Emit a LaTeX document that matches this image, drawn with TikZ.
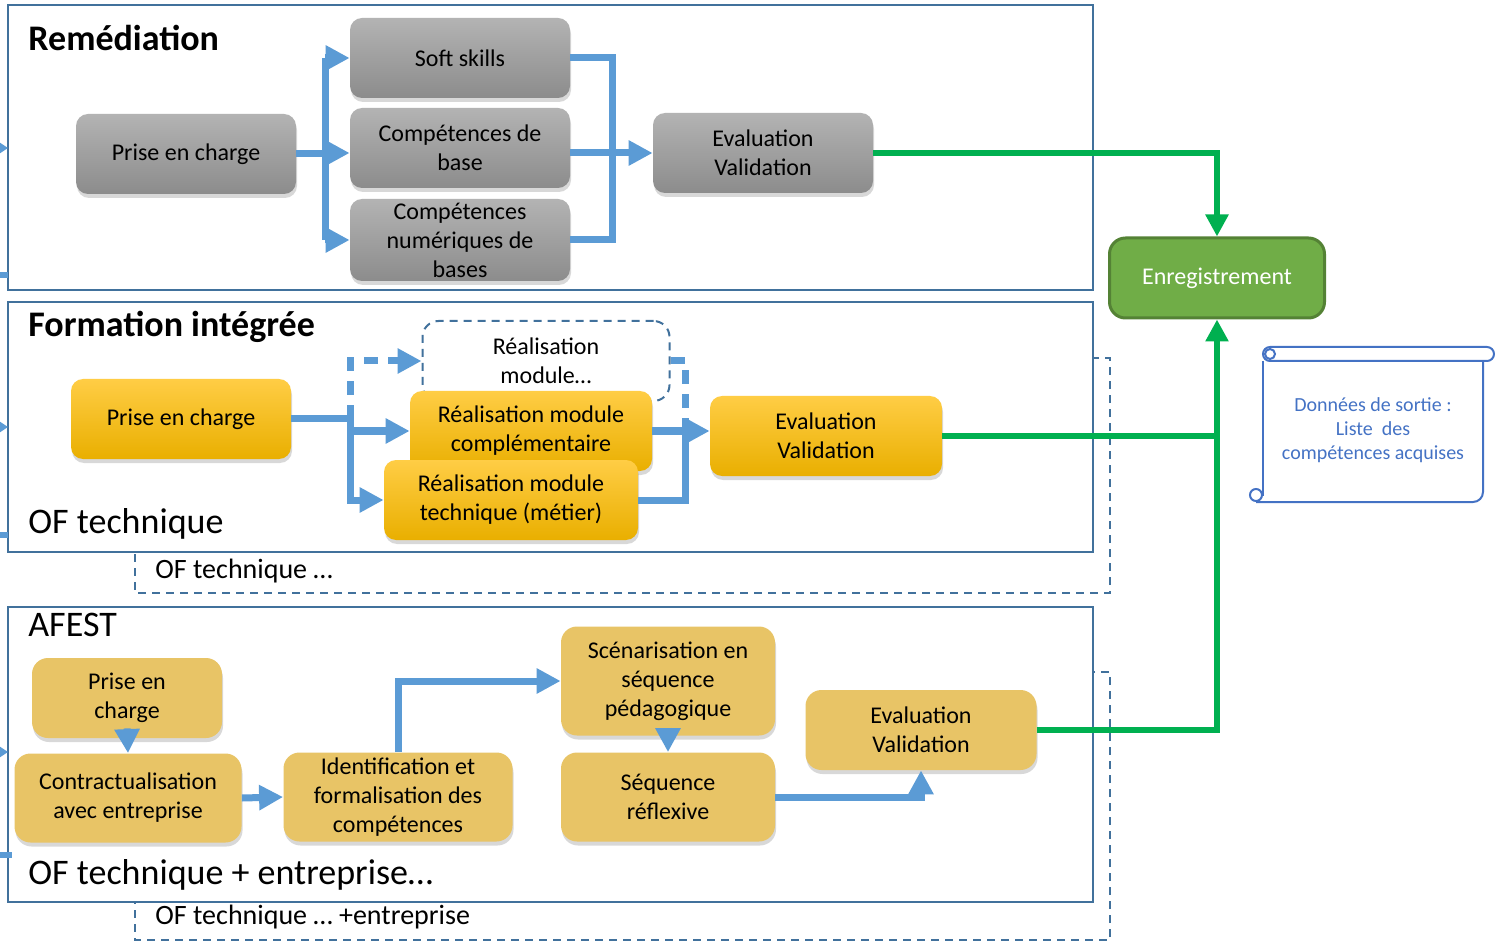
\documentclass[tikz,border=0pt]{standalone}
\usepackage{fontspec}
\setmainfont{Carlito}
\usepackage{tikz}
\usetikzlibrary{arrows.meta,shadows,positioning}
\definecolor{cadre}{HTML}{41719C}
\definecolor{fleche}{HTML}{5B9BD5}
\definecolor{vert}{HTML}{00B050}
\definecolor{enrfond}{HTML}{70AD47}
\definecolor{enrbord}{HTML}{548235}
\definecolor{sortie}{HTML}{4472C4}
\definecolor{grisH}{HTML}{B3B3B3}
\definecolor{grisB}{HTML}{8C8C8C}
\definecolor{orH}{HTML}{FFCD45}
\definecolor{orM}{HTML}{FFC000}
\definecolor{orB}{HTML}{E9AF00}
\definecolor{jaune}{HTML}{E8C466}

\begin{document}
\begin{tikzpicture}[x=0.5pt,y=-0.5pt,>={Triangle[length=12pt,width=12pt]},
                    line join=miter]
  \tikzstyle{box}=[rectangle,rounded corners=6pt,align=center,inner sep=1pt,
                   font=\fontsize{12}{14.5}\selectfont,minimum width=110pt,minimum height=40pt]
  \tikzstyle{ombre}=[drop shadow={shadow xshift=0.5pt,shadow yshift=-2pt,opacity=0.3}]
  \tikzstyle{grisbox}=[box,ombre,top color=grisH,bottom color=grisB]
  \tikzstyle{orbox}=[box,ombre,top color=orH,middle color=orM,bottom color=orB]
  \tikzstyle{jbox}=[box,ombre,rounded corners=8pt,fill=jaune]
  \tikzstyle{cadre}=[draw=cadre,line width=1pt,fill=white]
  \tikzstyle{cadrepointe}=[draw=cadre,line width=1pt,dash pattern=on 4pt off 3pt]
  \tikzstyle{titre}=[anchor=west,inner sep=0pt,font=\fontsize{18}{20}\selectfont]
  \tikzstyle{sous}=[anchor=west,inner sep=0pt,font=\fontsize{14}{16}\selectfont]
  \tikzstyle{fl}=[draw=fleche,line width=3.5pt]
  \tikzstyle{vt}=[draw=vert,line width=3pt,>={Triangle[length=11pt,width=11pt]}]
  \tikzstyle{sc}=[draw=sortie,line width=1pt]

  \useasboundingbox (0,0) rectangle (1495,941);

  % cadres
  \draw[cadrepointe] (135,358) rectangle (1110,593);
  \draw[cadrepointe] (135,672) rectangle (1110,940);
  \draw[cadre] (8,5) rectangle (1093,290);
  \draw[cadre] (8,302) rectangle (1093,552);
  \draw[cadre] (8,607) rectangle (1093,902);

  \node[titre,font=\fontsize{18}{20}\selectfont\bfseries] (t1) at (28,38) {Remédiation};
  \node[titre,font=\fontsize{18}{20}\selectfont\bfseries] (t2) at (28,327) {Formation intégrée};
  \node[titre] (t3) at (28,524) {OF technique};
  \node[sous] (t4) at (155,571) {OF technique …};
  \node[titre] (t5) at (28,625) {AFEST};
  \node[titre] (t6) at (28,875) {OF technique + entreprise…};
  \node[sous] (t7) at (155,917) {OF technique … +entreprise};

  % Remediation
  \node[grisbox] (r1) at (186,154) {Prise en charge};
  \node[grisbox] (r2) at (460,58)  {Soft skills};
  \node[grisbox] (r3) at (460,148) {Compétences de\\base};
  \node[grisbox,minimum height=41pt] (r4) at (460,240) {Compétences\\numériques de\\bases};
  \node[grisbox] (r5) at (763,153) {Evaluation\\Validation};

  % Formation integree
  \node[orbox] (f1) at (181,419) {Prise en charge};
  \node[box,draw=cadre,line width=1pt,dash pattern=on 4pt off 3pt,rounded corners=8pt,
        minimum width=123.5pt] (f2) at (546,361) {Réalisation\\module…};
  \node[orbox,minimum width=121pt] (f3) at (531,431) {Réalisation module\\complémentaire};
  \node[orbox,minimum width=127pt] (f4) at (511,500) {Réalisation module\\technique (métier)};
  \node[orbox,minimum width=116pt] (f5) at (826,436) {Evaluation\\Validation};

  % AFEST
  \node[jbox,minimum width=95pt] (a1) at (127,698) {Prise en\\charge};
  \node[jbox,minimum width=113.5pt,minimum height=44.5pt] (a2) at (128,798) {Contractualisation\\avec entreprise};
  \node[jbox,minimum width=114.5pt,minimum height=44.5pt] (a3) at (398,797) {Identification et\\formalisation des\\compétences};
  \node[jbox,minimum width=107pt,minimum height=54.5pt] (a4) at (668,681) {Scénarisation en\\séquence\\pédagogique};
  \node[jbox,minimum width=107pt,minimum height=44.5pt] (a5) at (668,797) {Séquence\\réflexive};
  \node[jbox,minimum width=115.5pt] (a6) at (921,730) {Evaluation\\Validation};

  \node[box,rounded corners=8pt,fill=enrfond,draw=enrbord,line width=1.5pt,text=white,
        minimum width=107.5pt] (enr) at (1217,278) {Enregistrement};

  % donnees de sortie
  \node[align=center,text=sortie,font=\fontsize{10}{12}\selectfont] (ds) at (1373,430)
       {Données de sortie :\\Liste~~des\\compétences acquises};
  \draw[sc,rounded corners=3.5pt] (1263,361) -- (1263,347) -- (1494,347) -- (1494,361) -- cycle;
  \draw[sc] (1270,354) circle[radius=2.5pt];
  \draw[sc] (1263,361) -- (1263,496);
  \draw[sc,rounded corners=5pt] (1256,502) -- (1483,502) -- (1483,361);
  \draw[sc] (1256,495) circle[radius=3pt];

  % fleches bleues
  \coordinate (b1) at (325,58);
  \coordinate (b2) at (325,153);
  \coordinate (b3) at (325,240);
  \draw[fl] (r1.east) -- (r1.east -| b2);
  \draw[fl] (b1) -- (b3);
  \draw[fl,->] (b1) -- (r2.west);
  \draw[fl,->] (b2) -- (b2 -| r3.west);
  \draw[fl,->] (b3) -- (r4.west);
  \draw[fl] (r2.east) -- ++(42,0) |- (r4.east);
  \draw[fl,->] (r3.east |- r5.west) -- (r5.west);

  \coordinate (j1) at (350,419);
  \coordinate (j4) at (350,431);
  \coordinate (j2) at (685,431);
  \draw[fl] (f1.east) -- (j1);
  \draw[fl,->] (j1) |- (f4.west);
  \draw[fl,->] (j4) -- (j4 -| f3.west);
  \draw[fl,->,dash pattern=on 7pt off 5pt] (j1) |- (f2.west);
  \draw[fl,dash pattern=on 7pt off 5pt] (f2.east) -| (j2);
  \draw[fl] (f4.east) -| (j2);
  \draw[fl,->] (f3.east) -- (f5.west |- f3.east);

  \draw[fl,->] ([yshift=5pt]a1.south) -- (a2.north);
  \draw[fl,->] (a2.east) -- (a3.west);
  \draw[fl,->] (a3.north) |- (a4.west);
  \draw[fl,->] ([yshift=4pt]a4.south) -- (a5.north);
  \draw[fl,->] (a5.east) -| (a6.south);

  % bords gauches
  \coordinate (g1) at (0,148);
  \coordinate (g2) at (0,427);
  \coordinate (g3) at (0,752);
  \foreach \g in {g1,g2,g3}
    \draw[fl,line width=1pt,->,>={Triangle[length=4pt,width=5pt]}] (\g) -- ++(8,0);
  \coordinate (h1) at (0,275);
  \coordinate (h2) at (0,535);
  \coordinate (h3) at (0,855);
  \foreach \h in {h1,h2}
    \draw[fl,line width=3pt] (\h) -- ++(8,0);
  \draw[fl,line width=3pt] (h3) -- ++(12,0);

  % fleches vertes
  \draw[vt,->] (r5.east) -| (enr.north);
  \draw[vt] (f5.east) -- (f5.east -| enr.south);
  \draw[vt,->] (a6.east) -| (enr.south);
\end{tikzpicture}
\end{document}
